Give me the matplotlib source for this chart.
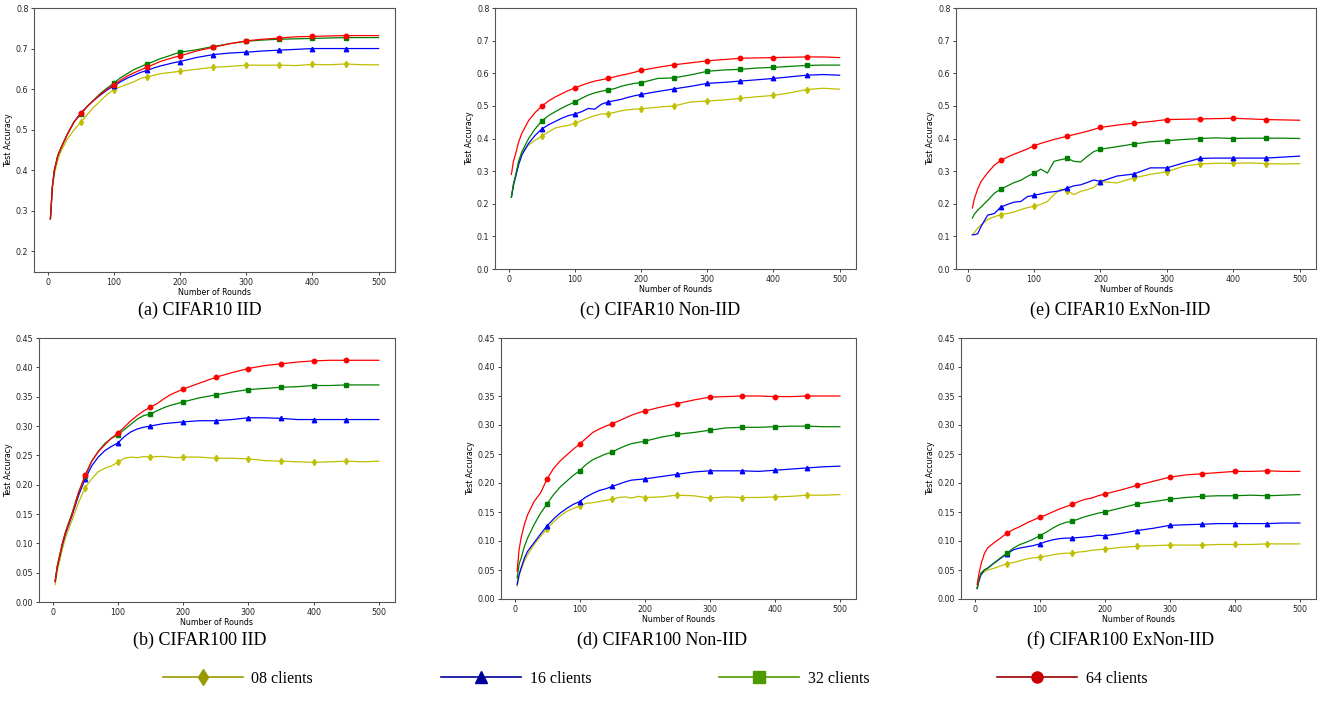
import numpy as np
import matplotlib
matplotlib.use("Agg")
import matplotlib.pyplot as plt
from matplotlib.lines import Line2D


rounds = [4, 7, 10, 15, 20, 30, 40, 50, 60, 70, 80, 90, 100, 110, 120, 130, 140, 150,
          160, 170, 180, 190, 200, 225, 250, 275, 300, 325, 350, 375, 400, 425, 450, 475, 500]
marker_rounds = [50, 100, 150, 200, 250, 300, 350, 400, 450]

client_labels = ["08 clients", "16 clients", "32 clients", "64 clients"]
nan = float("nan")

# (a) CIFAR10 IID
c10_iid_08 = [0.28, 0.355, 0.39, 0.425, 0.447, 0.478, 0.50, 0.518, 0.538, 0.556, 0.572, 0.587, 0.599, 0.606, 0.612,
              0.618, 0.626, 0.630, 0.634, 0.638, 0.640, 0.642, 0.644, 0.649, 0.654, 0.656, 0.659, 0.659, 0.659, 0.658,
              0.661, 0.660, 0.662, 0.660, 0.660]
c10_iid_16 = [0.28, 0.36, 0.40, 0.435, 0.455, 0.49, 0.52, 0.541, 0.558, 0.573, 0.586, 0.598, 0.608, 0.618, 0.627,
              0.634, 0.641, 0.646, 0.652, 0.657, 0.661, 0.665, 0.668, 0.678, 0.685, 0.689, 0.691, 0.694, 0.696, 0.698,
              0.700, 0.700, 0.700, 0.700, 0.700]
c10_iid_32 = [0.28, 0.36, 0.40, 0.435, 0.455, 0.49, 0.52, 0.538, 0.558, 0.574, 0.590, 0.603, 0.615, 0.628, 0.638,
              0.648, 0.655, 0.662, 0.668, 0.675, 0.680, 0.686, 0.691, 0.697, 0.705, 0.712, 0.718, 0.721, 0.723, 0.724,
              0.725, 0.726, 0.727, 0.727, 0.727]
c10_iid_64 = [0.28, 0.36, 0.40, 0.435, 0.455, 0.49, 0.52, 0.54, 0.558, 0.573, 0.588, 0.60, 0.611, 0.622, 0.632,
              0.640, 0.647, 0.654, 0.661, 0.668, 0.673, 0.678, 0.682, 0.694, 0.703, 0.712, 0.719, 0.723, 0.726, 0.729,
              0.730, 0.731, 0.732, 0.732, 0.732]

# (c) CIFAR10 Non-IID
c10_non_08 = [0.22, 0.26, 0.28, 0.33, 0.36, 0.38, 0.395, 0.407, 0.42, 0.432, 0.437, 0.440, 0.447, 0.455, 0.463,
              0.470, 0.475, 0.476, 0.48, 0.485, 0.488, 0.490, 0.491, 0.496, 0.50, 0.512, 0.515, 0.518, 0.523, 0.528,
              0.532, 0.540, 0.550, 0.554, 0.551]
c10_non_16 = [0.22, 0.255, 0.28, 0.32, 0.35, 0.385, 0.41, 0.429, 0.442, 0.452, 0.462, 0.470, 0.475, 0.482, 0.492,
              0.490, 0.505, 0.512, 0.516, 0.520, 0.526, 0.531, 0.535, 0.544, 0.552, 0.560, 0.569, 0.572, 0.576, 0.580,
              0.584, 0.589, 0.594, 0.596, 0.594]
c10_non_32 = [0.22, 0.26, 0.285, 0.33, 0.36, 0.40, 0.43, 0.454, 0.47, 0.482, 0.493, 0.503, 0.512, 0.523, 0.533,
              0.540, 0.545, 0.549, 0.553, 0.560, 0.565, 0.569, 0.571, 0.584, 0.586, 0.595, 0.606, 0.610, 0.612, 0.616,
              0.618, 0.621, 0.624, 0.625, 0.625]
c10_non_64 = [0.29, 0.33, 0.35, 0.39, 0.417, 0.455, 0.48, 0.499, 0.515, 0.527, 0.537, 0.547, 0.555, 0.563, 0.570,
              0.576, 0.580, 0.584, 0.589, 0.594, 0.598, 0.603, 0.609, 0.618, 0.626, 0.632, 0.638, 0.642, 0.646, 0.647,
              0.648, 0.649, 0.650, 0.650, 0.648]

# (e) CIFAR10 ExNon-IID
c10_ex_08 = [nan, 0.105, 0.112, 0.125, 0.135, 0.152, 0.16, 0.167, 0.17, 0.175, 0.182, 0.188, 0.192, 0.198, 0.207,
             0.228, 0.245, 0.24, 0.228, 0.238, 0.243, 0.25, 0.268, 0.264, 0.279, 0.29, 0.298, 0.315, 0.322, 0.324,
             0.324, 0.325, 0.323, 0.322, 0.323]
c10_ex_16 = [nan, 0.105, 0.105, 0.108, 0.13, 0.165, 0.17, 0.19, 0.198, 0.205, 0.207, 0.222, 0.226, 0.23, 0.235,
             0.237, 0.24, 0.248, 0.255, 0.258, 0.265, 0.273, 0.268, 0.285, 0.291, 0.31, 0.31, 0.325, 0.339, 0.34,
             0.34, 0.34, 0.34, 0.343, 0.346]
c10_ex_32 = [nan, 0.156, 0.168, 0.18, 0.19, 0.21, 0.232, 0.245, 0.255, 0.265, 0.272, 0.284, 0.294, 0.306, 0.294,
             0.33, 0.335, 0.339, 0.33, 0.328, 0.345, 0.36, 0.367, 0.375, 0.383, 0.39, 0.393, 0.397, 0.40, 0.402,
             0.40, 0.401, 0.401, 0.401, 0.40]
c10_ex_64 = [nan, 0.187, 0.215, 0.245, 0.268, 0.295, 0.318, 0.333, 0.343, 0.352, 0.36, 0.368, 0.378, 0.385, 0.391,
             0.397, 0.402, 0.407, 0.412, 0.417, 0.422, 0.428, 0.434, 0.441, 0.447, 0.452, 0.458, 0.459, 0.460, 0.461,
             0.462, 0.460, 0.458, 0.457, 0.456]

# (b) CIFAR100 IID
c100_iid_08 = [0.03, 0.052, 0.066, 0.09, 0.11, 0.14, 0.17, 0.195, 0.21, 0.222, 0.228, 0.232, 0.238, 0.245, 0.247,
               0.246, 0.248, 0.247, 0.248, 0.248, 0.247, 0.246, 0.247, 0.247, 0.245, 0.245, 0.244, 0.241, 0.24, 0.239,
               0.238, 0.239, 0.24, 0.239, 0.24]
c100_iid_16 = [0.035, 0.058, 0.073, 0.097, 0.117, 0.148, 0.182, 0.21, 0.232, 0.247, 0.258, 0.265, 0.271, 0.282, 0.29,
               0.295, 0.298, 0.30, 0.302, 0.304, 0.305, 0.306, 0.307, 0.309, 0.309, 0.311, 0.314, 0.314, 0.313, 0.311,
               0.311, 0.311, 0.311, 0.311, 0.311]
c100_iid_32 = [0.035, 0.06, 0.075, 0.10, 0.12, 0.152, 0.188, 0.214, 0.24, 0.257, 0.27, 0.279, 0.285, 0.294, 0.303,
               0.312, 0.318, 0.32, 0.326, 0.331, 0.335, 0.338, 0.341, 0.348, 0.353, 0.358, 0.362, 0.364, 0.366, 0.367,
               0.369, 0.369, 0.37, 0.37, 0.37]
c100_iid_64 = [0.035, 0.06, 0.075, 0.10, 0.12, 0.15, 0.186, 0.217, 0.24, 0.256, 0.268, 0.279, 0.288, 0.298, 0.309,
               0.318, 0.326, 0.332, 0.338, 0.346, 0.353, 0.358, 0.363, 0.373, 0.383, 0.391, 0.398, 0.403, 0.406, 0.409,
               0.411, 0.412, 0.412, 0.412, 0.412]

# (d) CIFAR100 Non-IID
c100_non_08 = [0.022, 0.04, 0.05, 0.065, 0.076, 0.094, 0.108, 0.121, 0.133, 0.143, 0.151, 0.156, 0.16, 0.165, 0.166,
               0.168, 0.17, 0.172, 0.175, 0.176, 0.174, 0.177, 0.175, 0.176, 0.179, 0.178, 0.174, 0.176, 0.175, 0.175,
               0.176, 0.177, 0.179, 0.179, 0.18]
c100_non_16 = [0.025, 0.042, 0.053, 0.07, 0.082, 0.097, 0.112, 0.126, 0.138, 0.148, 0.156, 0.163, 0.168, 0.176, 0.182,
               0.187, 0.19, 0.194, 0.198, 0.202, 0.205, 0.206, 0.207, 0.211, 0.215, 0.219, 0.221, 0.221, 0.221, 0.22,
               0.222, 0.224, 0.226, 0.228, 0.229]
c100_non_32 = [0.036, 0.06, 0.07, 0.09, 0.105, 0.128, 0.148, 0.164, 0.18, 0.193, 0.203, 0.213, 0.221, 0.232, 0.24,
               0.245, 0.25, 0.253, 0.259, 0.264, 0.268, 0.27, 0.272, 0.279, 0.284, 0.287, 0.291, 0.295, 0.296, 0.296,
               0.297, 0.298, 0.298, 0.297, 0.297]
c100_non_64 = [0.048, 0.085, 0.105, 0.128, 0.145, 0.168, 0.183, 0.207, 0.225, 0.238, 0.248, 0.258, 0.267, 0.277, 0.287,
               0.293, 0.298, 0.302, 0.307, 0.312, 0.317, 0.321, 0.324, 0.331, 0.337, 0.343, 0.348, 0.349, 0.35, 0.35,
               0.349, 0.349, 0.35, 0.35, 0.35]

# (f) CIFAR100 ExNon-IID
c100_ex_08 = [0.02, 0.035, 0.042, 0.047, 0.05, 0.053, 0.057, 0.061, 0.063, 0.066, 0.069, 0.071, 0.072, 0.074, 0.076,
              0.078, 0.079, 0.079, 0.081, 0.082, 0.084, 0.085, 0.086, 0.089, 0.091, 0.092, 0.093, 0.093, 0.093, 0.094,
              0.094, 0.094, 0.095, 0.095, 0.095]
c100_ex_16 = [0.018, 0.032, 0.042, 0.05, 0.053, 0.062, 0.07, 0.078, 0.085, 0.088, 0.09, 0.092, 0.095, 0.099, 0.102,
              0.104, 0.105, 0.105, 0.106, 0.107, 0.108, 0.11, 0.109, 0.113, 0.118, 0.122, 0.127, 0.128, 0.129, 0.13,
              0.13, 0.13, 0.13, 0.131, 0.131]
c100_ex_32 = [0.018, 0.035, 0.045, 0.05, 0.053, 0.062, 0.071, 0.079, 0.088, 0.094, 0.098, 0.103, 0.109, 0.115, 0.122,
              0.128, 0.132, 0.134, 0.138, 0.142, 0.145, 0.148, 0.15, 0.157, 0.164, 0.168, 0.172, 0.175, 0.177, 0.178,
              0.178, 0.179, 0.178, 0.179, 0.18]
c100_ex_64 = [0.025, 0.045, 0.06, 0.078, 0.088, 0.097, 0.105, 0.114, 0.12, 0.125, 0.131, 0.136, 0.141, 0.145, 0.15,
              0.155, 0.159, 0.163, 0.168, 0.172, 0.174, 0.178, 0.181, 0.188, 0.196, 0.203, 0.21, 0.214, 0.216, 0.218,
              0.22, 0.22, 0.221, 0.22, 0.22]

# plot styles: (line colour, marker)
plot_styles = [("#bfbf00", "d"), ("#0000ff", "^"), ("#008000", "s"), ("#ff0000", "o")]
legend_styles = [("#999900", "#999900", "d"), ("#000099", "#000099", "^"),
                 ("#4c9900", "#4c9900", "s"), ("#990000", "#cc0000", "o")]

W, H = 1321, 701
SERIF = "Liberation Serif"
TICK_FS = 5.7


def px_box(left, top, right, bottom):
    return [left / W, 1 - bottom / H, (right - left) / W, (bottom - top) / H]


def draw_panel(fig, box, series, ylim, yticks, yfmt, caption, caption_xy):
    ax = fig.add_axes(px_box(*box))
    mark_idx = [rounds.index(r) for r in marker_rounds]
    for vals, (col, mk) in zip(series, plot_styles):
        ax.plot(rounds, vals, color=col, lw=0.9, marker=mk, markersize=3.2,
                markevery=mark_idx)
    ax.set_ylim(*ylim)
    ax.set_yticks(yticks)
    ax.set_yticklabels([yfmt.format(v) for v in yticks])
    ax.set_xticks([0, 100, 200, 300, 400, 500])
    ax.tick_params(labelsize=TICK_FS, length=2.5, width=0.6, pad=1.5, colors="#222222")
    for sp in ax.spines.values():
        sp.set_linewidth(0.8)
        sp.set_color("#555555")
    ax.set_xlabel("Number of Rounds", fontsize=TICK_FS, labelpad=1)
    ax.set_ylabel("Test Accuracy", fontsize=TICK_FS, labelpad=2)
    fig.text(caption_xy[0] / W, 1 - caption_xy[1] / H, caption, ha="center", va="center",
             fontsize=13, family=SERIF)
    return ax


fig = plt.figure(figsize=(W / 100, H / 100), dpi=100)

draw_panel(fig, (34, 8, 395, 272), [c10_iid_08, c10_iid_16, c10_iid_32, c10_iid_64],
           (0.149, 0.8), [0.2, 0.3, 0.4, 0.5, 0.6, 0.7, 0.8], "{:.1f}",
           "(a) CIFAR10 IID", (200, 310))
draw_panel(fig, (495, 8, 856, 269), [c10_non_08, c10_non_16, c10_non_32, c10_non_64],
           (0.0, 0.8), [0.0, 0.1, 0.2, 0.3, 0.4, 0.5, 0.6, 0.7, 0.8], "{:.1f}",
           "(c) CIFAR10 Non-IID", (660, 310))
draw_panel(fig, (956, 8, 1316, 269), [c10_ex_08, c10_ex_16, c10_ex_32, c10_ex_64],
           (0.0, 0.8), [0.0, 0.1, 0.2, 0.3, 0.4, 0.5, 0.6, 0.7, 0.8], "{:.1f}",
           "(e) CIFAR10 ExNon-IID", (1120, 310))

y100 = [0.0, 0.05, 0.10, 0.15, 0.20, 0.25, 0.30, 0.35, 0.40, 0.45]
draw_panel(fig, (39, 338, 395, 602), [c100_iid_08, c100_iid_16, c100_iid_32, c100_iid_64],
           (0.0, 0.45), y100, "{:.2f}", "(b) CIFAR100 IID", (200, 640))
draw_panel(fig, (501, 338, 856, 599), [c100_non_08, c100_non_16, c100_non_32, c100_non_64],
           (0.0, 0.45), y100, "{:.2f}", "(d) CIFAR100 Non-IID", (662, 640))
draw_panel(fig, (961, 338, 1316, 599), [c100_ex_08, c100_ex_16, c100_ex_32, c100_ex_64],
           (0.0, 0.45), y100, "{:.2f}", "(f) CIFAR100 ExNon-IID", (1121, 640))

handles = [Line2D([], [], color=lc, marker=mk, markerfacecolor=mc, markeredgecolor=mc,
                  markersize=8, lw=1.2)
           for lc, mc, mk in legend_styles]
fig.legend(handles, client_labels, loc="center", bbox_to_anchor=(655 / W, 1 - 679 / H),
           ncol=4, frameon=False, prop={"family": SERIF, "size": 11.5},
           handlelength=5.0, handletextpad=0.55, columnspacing=8.0)

fig.savefig("out.png", dpi=100)
